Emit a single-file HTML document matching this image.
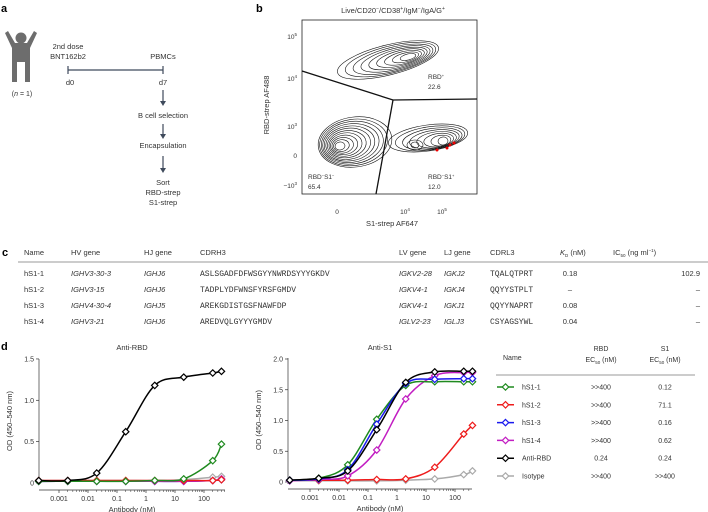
<!DOCTYPE html>
<html><head><meta charset="utf-8"><style>
body{margin:0;background:#fff}
svg{display:block;font-family:"Liberation Sans",sans-serif}
.m{font-family:"Liberation Mono",monospace}
</style></head><body>
<svg id="s" width="708" height="512" viewBox="0 0 708 512" xmlns="http://www.w3.org/2000/svg">
<g font-weight="bold" font-size="11"><text x="1" y="12">a</text><text x="256" y="12">b</text><text x="2" y="256">c</text><text x="1" y="350">d</text></g>
<!-- panel a -->
<g fill="#6d6d6d">
<circle cx="21" cy="38" r="5.5"/>
<path d="M5,33 L8,31 L15,43 L27,43 L34,31 L37,33 L30,48 L30,82 L25,82 L25,62 L17,62 L17,82 L12,82 L12,48 Z"/>
</g>
<text x="22" y="96" font-size="7" text-anchor="middle" fill="#333">(<tspan font-style="italic">n</tspan> = 1)</text>
<g font-size="7.5" fill="#333" text-anchor="middle">
<text x="68" y="49">2nd dose</text><text x="68" y="59">BNT162b2</text>
<text x="163" y="59">PBMCs</text>
<text x="70" y="85">d0</text><text x="163" y="85">d7</text>
<text x="163" y="118">B cell selection</text>
<text x="163" y="148">Encapsulation</text>
<text x="163" y="185">Sort</text><text x="163" y="195">RBD-strep</text><text x="163" y="205">S1-strep</text>
</g>
<g stroke="#3f4a5c" stroke-width="1.2" fill="none">
<line x1="68" y1="70" x2="163" y2="70"/><line x1="68" y1="66" x2="68" y2="74"/><line x1="163" y1="66" x2="163" y2="74"/>
<line x1="163" y1="90" x2="163" y2="103"/><line x1="163" y1="124" x2="163" y2="136"/><line x1="163" y1="156" x2="163" y2="170"/>
</g>
<g fill="#3f4a5c"><path d="M160,101 L166,101 L163,106Z"/><path d="M160,134 L166,134 L163,139Z"/><path d="M160,168 L166,168 L163,173Z"/></g>
<!-- panel b -->
<text x="393" y="13" font-size="7.5" text-anchor="middle" fill="#333">Live/CD20<tspan dy="-3" font-size="5">−</tspan><tspan dy="3">/CD38</tspan><tspan dy="-3" font-size="5">+</tspan><tspan dy="3">/IgM</tspan><tspan dy="-3" font-size="5">−</tspan><tspan dy="3">/IgA/G</tspan><tspan dy="-3" font-size="5">+</tspan></text>
<rect x="302" y="20" width="175" height="174" fill="none" stroke="#222" stroke-width="0.8"/>
<g id="cont" fill="none" stroke="#111" stroke-width="0.6"></g>
<g stroke="#111" stroke-width="1.3" fill="none"><polyline points="302,71 393,100 477,99"/><line x1="393" y1="100" x2="376" y2="194"/></g>
<g fill="#e00"><circle cx="437" cy="150" r="1.5"/><circle cx="447" cy="148" r="1.5"/><circle cx="450" cy="145" r="1.5"/><circle cx="454" cy="143" r="1.5"/></g>
<g font-size="6.5" fill="#333">
<text x="428" y="79">RBD<tspan dy="-2" font-size="4">+</tspan></text><text x="428" y="89">22.6</text>
<text x="308" y="179">RBD<tspan dy="-2" font-size="4">−</tspan><tspan dy="2">S1</tspan><tspan dy="-2" font-size="4">−</tspan></text><text x="308" y="189">65.4</text>
<text x="428" y="179">RBD<tspan dy="-2" font-size="4">−</tspan><tspan dy="2">S1</tspan><tspan dy="-2" font-size="4">+</tspan></text><text x="428" y="189">12.0</text>
</g>
<g font-size="6.5" fill="#333" text-anchor="end">
<text x="297" y="39">10<tspan dy="-3" font-size="4.5">5</tspan></text>
<text x="297" y="81">10<tspan dy="-3" font-size="4.5">4</tspan></text>
<text x="297" y="129">10<tspan dy="-3" font-size="4.5">3</tspan></text>
<text x="297" y="158">0</text>
<text x="297" y="188">−10<tspan dy="-3" font-size="4.5">3</tspan></text>
</g>
<g font-size="6.5" fill="#333" text-anchor="middle">
<text x="337" y="214">0</text><text x="405" y="214">10<tspan dy="-3" font-size="4.5">4</tspan></text><text x="442" y="214">10<tspan dy="-3" font-size="4.5">5</tspan></text>
<text x="392" y="226" font-size="7.5">S1-strep AF647</text>
</g>
<text transform="translate(269,105) rotate(-90)" font-size="7.5" fill="#333" text-anchor="middle">RBD-strep AF488</text>
<!-- panel c -->
<g font-size="7.5" fill="#333">
<text x="24" y="255">Name</text><text x="71" y="255">HV gene</text><text x="144" y="255">HJ gene</text><text x="200" y="255">CDRH3</text><text x="399" y="255">LV gene</text><text x="444" y="255">LJ gene</text><text x="490" y="255">CDRL3</text><text x="560" y="255"><tspan font-style="italic">K</tspan><tspan font-size="4.5" dy="2">D</tspan><tspan dy="-2"> (nM)</tspan></text><text x="613" y="255">IC<tspan font-size="4.5" dy="2">50</tspan><tspan dy="-2"> (ng ml</tspan><tspan font-size="4.5" dy="-3">−1</tspan><tspan dy="3">)</tspan></text>
</g>
<line x1="18" y1="262" x2="708" y2="262" stroke="#777" stroke-width="0.8"/>
<g font-size="7.5" fill="#333" id="ctab"></g>
<!-- panel d -->
<g id="d" font-size="7" fill="#333"></g>
</svg>
<script>
var NS="http://www.w3.org/2000/svg";
function el(p,t,a,txt){var e=document.createElementNS(NS,t);for(var k in a)e.setAttribute(k,a[k]);if(txt!=null)e.textContent=txt;p.appendChild(e);return e;}
var c=document.getElementById('cont');
function blob(o,i,n,rot){for(var k=0;k<n;k++){var t=k/(n-1);var cx=o[0]+(i[0]-o[0])*t,cy=o[1]+(i[1]-o[1])*t,rx=o[2]+(i[2]-o[2])*t,ry=o[3]+(i[3]-o[3])*t;
el(c,'ellipse',{cx:cx.toFixed(1),cy:cy.toFixed(1),rx:rx.toFixed(1),ry:ry.toFixed(1),transform:'rotate('+rot+' '+cx.toFixed(1)+' '+cy.toFixed(1)+')'});}}
blob([388,60,52,15],[408,57,8,3],9,-14);
blob([355,142,37,25],[340,146,5,4],12,-8);
blob([428,138,40,13],[443,141,5,4],8,-8);
blob([415,145,8,5],[415,145,4,3],2,0);
var rows=[["hS1-1","IGHV3-30-3","IGHJ6","ASLSGADFDFWSGYYNWRDSYYYGKDV","IGKV2-28","IGKJ2","TQALQTPRT","0.18","102.9"],
["hS1-2","IGHV3-15","IGHJ6","TADPLYDFWNSFYRSFGMDV","IGKV4-1","IGKJ4","QQYYSTPLT","–","–"],
["hS1-3","IGHV4-30-4","IGHJ5","AREKGDISTGSFNAWFDP","IGKV4-1","IGKJ1","QQYYNAPRT","0.08","–"],
["hS1-4","IGHV3-21","IGHJ6","AREDVQLGYYYGMDV","IGLV2-23","IGLJ3","CSYAGSYWL","0.04","–"]];
var ct=document.getElementById('ctab');var ys=[276,292,308,324];
rows.forEach(function(r,i){var y=ys[i];
el(ct,'text',{x:24,y:y},r[0]);el(ct,'text',{x:71,y:y,'font-style':'italic'},r[1]);el(ct,'text',{x:144,y:y,'font-style':'italic'},r[2]);
el(ct,'text',{x:200,y:y,'class':'m','font-size':'8'},r[3]);el(ct,'text',{x:399,y:y,'font-style':'italic'},r[4]);el(ct,'text',{x:444,y:y,'font-style':'italic'},r[5]);
el(ct,'text',{x:490,y:y,'class':'m','font-size':'8'},r[6]);el(ct,'text',{x:570,y:y,'text-anchor':'middle'},r[7]);el(ct,'text',{x:700,y:y,'text-anchor':'end'},r[8]);});
var d=document.getElementById('d');
var X=[0.0002,0.002,0.02,0.2,2,20,200,400];
function spline(pts){var s="M"+pts[0][0]+","+pts[0][1];for(var i=0;i<pts.length-1;i++){var p0=pts[Math.max(0,i-1)],p1=pts[i],p2=pts[i+1],p3=pts[Math.min(pts.length-1,i+2)];
var c1x=p1[0]+(p2[0]-p0[0])/6,c1y=p1[1]+(p2[1]-p0[1])/6,c2x=p2[0]-(p3[0]-p1[0])/6,c2y=p2[1]-(p3[1]-p1[1])/6;s+=" C"+c1x.toFixed(1)+","+c1y.toFixed(1)+" "+c2x.toFixed(1)+","+c2y.toFixed(1)+" "+p2[0].toFixed(1)+","+p2[1].toFixed(1);}return s;}
function diamond(g,x,y,col){el(g,'path',{d:'M'+x+','+(y-3.2)+' L'+(x+3.2)+','+y+' L'+x+','+(y+3.2)+' L'+(x-3.2)+','+y+'Z',fill:'#fff',stroke:col,'stroke-width':1.2});}
function plot(x0,xa,xe,y0,k,ticks,title,series){
 var px=function(v){return x0+29*Math.log10(v)};
 el(d,'line',{x1:xa,y1:y0-124,x2:xa,y2:y0+2,stroke:'#333','stroke-width':0.7});
 el(d,'line',{x1:xa,y1:y0+7,x2:xe,y2:y0+7,stroke:'#333','stroke-width':0.7});
 ticks.forEach(function(t){var y=y0-t*k;el(d,'line',{x1:xa-3,y1:y,x2:xa,y2:y,stroke:'#333','stroke-width':0.7});el(d,'text',{x:xa-5,y:y+2.5,'text-anchor':'end'},t==0?"0":t.toFixed(1));});
 [0.001,0.01,0.1,1,10,100].forEach(function(v){var x=px(v);el(d,'line',{x1:x,y1:y0+7,x2:x,y2:y0+10,stroke:'#333','stroke-width':0.7});el(d,'text',{x:x,y:y0+18,'text-anchor':'middle'},String(v));
  for(var m=2;m<10;m++){var xm=px(v*m);if(xm<xe)el(d,'line',{x1:xm,y1:y0+7,x2:xm,y2:y0+9,stroke:'#333','stroke-width':0.5});}});
 el(d,'text',{x:(xa+xe)/2,y:y0+29,'text-anchor':'middle','font-size':7.5},'Antibody (nM)');
 el(d,'text',{x:(xa+xe)/2,y:350,'text-anchor':'middle','font-size':7.5},title);
 el(d,'text',{transform:'translate('+(xa-27)+','+(y0-62)+') rotate(-90)','text-anchor':'middle','font-size':7.5},'OD (450–540 nm)');
 series.forEach(function(s){var pts=X.map(function(v,i){return [px(v),y0-s[1][i]*k]});
  el(d,'path',{d:spline(pts),fill:'none',stroke:s[0],'stroke-width':1.5});
  pts.forEach(function(p){diamond(d,p[0],p[1],s[0])});});
}
var G='#1f8a1f',R='#ee1c1c',B='#1a1aee',M='#c21ec2',K='#000',Y='#aaa';
plot(146,39,225,483,82.7,[0,0.5,1.0,1.5],'Anti-RBD',[
[Y,[0.03,0.03,0.03,0.03,0.03,0.04,0.07,0.08]],
[B,[0.02,0.02,0.02,0.02,0.02,0.02,0.03,0.04]],
[M,[0.02,0.02,0.02,0.02,0.02,0.02,0.03,0.05]],
[R,[0.03,0.03,0.03,0.03,0.03,0.03,0.03,0.04]],
[G,[0.02,0.02,0.02,0.02,0.03,0.05,0.27,0.47]],
[K,[0.03,0.03,0.12,0.62,1.18,1.28,1.33,1.35]]]);
plot(397,288,472,482,61.5,[0,0.5,1.0,1.5,2.0],'Anti-S1',[
[Y,[0.02,0.02,0.02,0.02,0.03,0.05,0.12,0.18]],
[R,[0.03,0.03,0.03,0.04,0.05,0.24,0.78,0.92]],
[M,[0.02,0.04,0.1,0.52,1.35,1.73,1.78,1.78]],
[G,[0.03,0.06,0.28,1.02,1.57,1.63,1.63,1.63]],
[B,[0.03,0.05,0.2,0.94,1.6,1.67,1.68,1.68]],
[K,[0.03,0.06,0.18,0.85,1.62,1.79,1.8,1.8]]]);
el(d,'text',{x:503,y:360,'font-size':7},'Name');
el(d,'text',{x:601,y:351,'text-anchor':'middle'},'RBD');
el(d,'text',{x:665,y:351,'text-anchor':'middle'},'S1');
var e1=el(d,'text',{x:601,y:362,'text-anchor':'middle'},'EC');el(e1,'tspan',{'font-size':4.5,dy:2},'50');el(e1,'tspan',{dy:-2},' (nM)');
var e2=el(d,'text',{x:665,y:362,'text-anchor':'middle'},'EC');el(e2,'tspan',{'font-size':4.5,dy:2},'50');el(e2,'tspan',{dy:-2},' (nM)');
el(d,'line',{x1:496,y1:375,x2:695,y2:375,stroke:'#777','stroke-width':0.8});
var L=[[G,'hS1-1','>>400','0.12'],[R,'hS1-2','>>400','71.1'],[B,'hS1-3','>>400','0.16'],[M,'hS1-4','>>400','0.62'],[K,'Anti-RBD','0.24','0.24'],[Y,'Isotype','>>400','>>400']];
L.forEach(function(r,i){var y=387+i*17.8;el(d,'line',{x1:497,y1:y,x2:514,y2:y,stroke:r[0],'stroke-width':1.5});diamond(d,505.5,y,r[0]);
 el(d,'text',{x:522,y:y+2.5},r[1]);el(d,'text',{x:601,y:y+2.5,'text-anchor':'middle'},r[2]);el(d,'text',{x:665,y:y+2.5,'text-anchor':'middle'},r[3]);});
</script>
</body></html>
